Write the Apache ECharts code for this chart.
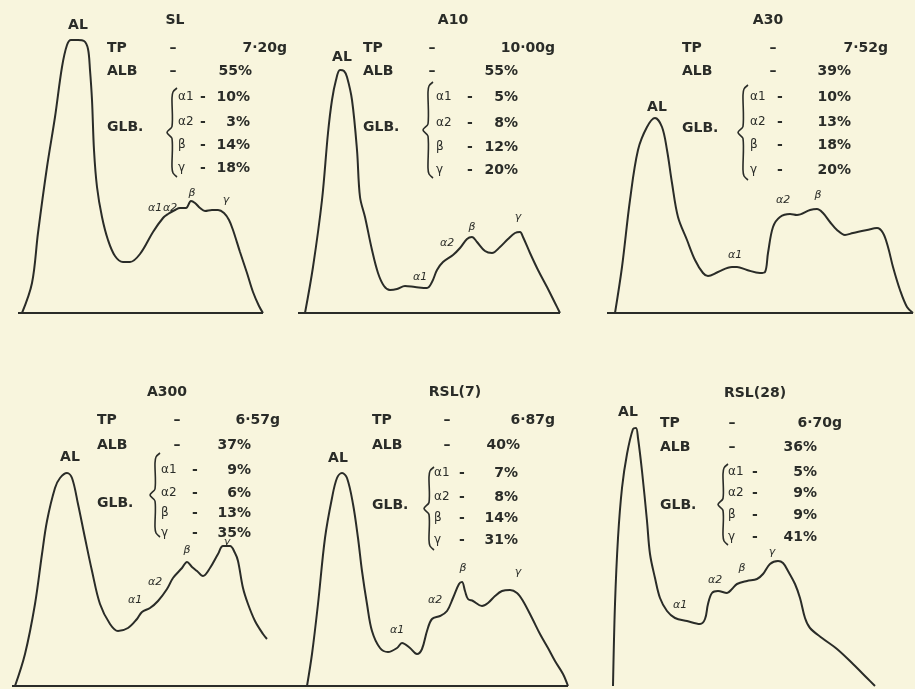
<!DOCTYPE html>
<html><head><meta charset="utf-8">
<script src="https://cdn.jsdelivr.net/npm/echarts@6/dist/echarts.min.js"></script>
<style>html,body{margin:0;padding:0;background:#f8f5dd}#c{width:915px;height:689px}</style>
</head><body><div id="c"></div>
<script>
// ---- data: densitometer traces [distance, density] ----
const slCurve = [[4,0],[14,30],[20,80],[29,146],[37,196],[44,246],[49,268],[53,273],[60,273],[66,272],[70,264],[72,243],[74,213],[76,163],[79,126],[84,96],[90,73],[97,57],[105,51],[112,51],[122,59],[135,81],[145,95],[150,99],[157,103],[162,105],[168,105],[173,112],[177,110],[182,105],[187,102],[194,103],[200,103],[206,100],[211,93],[215,83],[222,61],[229,40],[235,21],[241,7],[245,0]];
const a10Curve = [[7,0],[15,46],[24,113],[30,180],[34,213],[38,233],[42,243],[46,242],[49,236],[54,213],[59,163],[62,116],[67,96],[74,63],[80,40],[86,27],[92,23],[99,24],[107,27],[117,26],[129,25],[134,31],[139,43],[145,51],[155,58],[162,65],[169,74],[174,76],[179,71],[187,62],[194,60],[202,66],[210,74],[217,80],[222,81],[225,76],[232,60],[240,43],[249,26],[257,10],[262,0]];
const a30Curve = [[8,0],[15,46],[23,113],[31,163],[40,186],[48,195],[55,186],[60,163],[65,130],[71,96],[80,73],[88,53],[96,40],[101,37],[111,41],[125,46],[130,46],[140,43],[153,40],[158,41],[161,60],[166,86],[173,96],[183,99],[190,98],[203,103],[210,104],[216,100],[223,91],[230,83],[238,78],[246,80],[260,83],[270,85],[276,80],[281,66],[286,46],[293,23],[300,6],[306,0]];
const a300Curve = [[3,0],[13,32],[23,82],[30,132],[35,165],[43,198],[48,208],[55,213],[60,208],[66,182],[73,148],[80,115],[88,82],[98,62],[106,55],[116,58],[125,67],[130,74],[138,78],[146,85],[155,97],[161,108],[170,118],[175,124],[180,119],[185,115],[191,110],[198,118],[206,132],[211,140],[218,140],[223,133],[226,125],[231,98],[236,82],[243,65],[251,52],[255,47]];
const rsl7Curve = [[7,0],[12,32],[18,82],[25,148],[32,188],[37,208],[42,213],[47,208],[53,182],[58,148],[62,115],[67,82],[72,55],[80,38],[88,34],[97,38],[102,43],[110,38],[117,32],[122,37],[127,55],[132,67],[140,70],[147,75],[153,88],[159,102],[162,104],[165,95],[168,87],[173,85],[182,80],[188,83],[195,90],[202,95],[210,96],[217,93],[223,85],[232,68],[240,52],[248,38],[255,25],[263,12],[268,0]];
const rsl28Curve = [[13,0],[15,82],[18,148],[22,198],[27,232],[33,257],[36,258],[38,248],[42,215],[47,165],[50,132],[55,108],[60,88],[67,75],[75,68],[87,65],[100,62],[105,67],[108,82],[112,93],[118,95],[127,93],[132,97],[137,102],[147,105],[157,107],[163,112],[170,122],[178,125],[183,123],[188,115],[195,102],[200,88],[205,68],[210,58],[222,48],[237,37],[253,22],[267,8],[275,0]];
const baselineLength = [245, 262, 306, 290, 268, 0];

const sampleNames = ['SL', 'A10', 'A30', 'A300', 'RSL(7)', 'RSL(28)'];
const tpValues = ['7·20g', '10·00g', '7·52g', '6·57g', '6·87g', '6·70g'];
const albValues = ['55%', '55%', '39%', '37%', '40%', '36%'];
const alpha1Values = ['10%', '5%', '10%', '9%', '7%', '5%'];
const alpha2Values = ['3%', '8%', '13%', '6%', '8%', '9%'];
const betaValues = ['14%', '12%', '18%', '13%', '14%', '9%'];
const gammaValues = ['18%', '20%', '20%', '35%', '31%', '41%'];
const fractionNames = ['α1', 'α2', 'β', 'γ'];
const curves = [slCurve, a10Curve, a30Curve, a300Curve, rsl7Curve, rsl28Curve];

// ---- layout ----
const INK = '#2a2c28';
const layout = [
 {left:18, top:23, w:245, title:[175,20], al:[78,25], tpY:48, albY:71, lblX:107, dashX:173, tpR:287, albR:252, glbY:127, brX:172, brY:[88,177], rowX:178, rowDash:203, rowR:250, rowY:[97,122,145,168], peaks:[[155,208],[170,208],[192,193],[226,200]]},
 {left:298, top:23, w:262, title:[453,20], al:[342,57], tpY:48, albY:71, lblX:363, dashX:432, tpR:555, albR:518, glbY:127, brX:428, brY:[82,178], rowX:436, rowDash:470, rowR:518, rowY:[97,123,147,170], peaks:[[420,277],[447,243],[472,227],[518,217]]},
 {left:607, top:23, w:306, title:[768,20], al:[657,107], tpY:48, albY:71, lblX:682, dashX:773, tpR:888, albR:851, glbY:128, brX:743, brY:[85,180], rowX:750, rowDash:780, rowR:851, rowY:[97,122,145,170], peaks:[[735,255],[783,200],[818,195],null]},
 {left:12, top:396, w:290, title:[167,392], al:[70,457], tpY:420, albY:445, lblX:97, dashX:177, tpR:280, albR:251, glbY:503, brX:155, brY:[453,537], rowX:161, rowDash:195, rowR:251, rowY:[470,493,513,533], peaks:[[135,600],[155,582],[187,550],[227,542]]},
 {left:300, top:396, w:268, title:[455,392], al:[338,458], tpY:420, albY:445, lblX:372, dashX:447, tpR:555, albR:520, glbY:505, brX:429, brY:[467,550], rowX:434, rowDash:462, rowR:518, rowY:[473,497,518,540], peaks:[[397,630],[435,600],[463,568],[518,572]]},
 {left:600, top:396, w:275, title:[755,393], al:[628,412], tpY:423, albY:447, lblX:660, dashX:732, tpR:842, albR:817, glbY:505, brX:723, brY:[464,545], rowX:728, rowDash:755, rowR:817, rowY:[472,493,515,537], peaks:[[680,605],[715,580],[742,568],[772,552]]}
];
const H = 290;
const FONT = 'bold 14px "DejaVu Sans"';
function txt(t, x, y, align, font) {
  return {type:'text', x:x, y:y, silent:true, z:10,
    style:{text:t, fill:INK, font:font||FONT, align:align||'left', verticalAlign:'middle',
           textAlign:align||'left', textVerticalAlign:'middle'}};
}

const grids = [], xAxes = [], yAxes = [], series = [], graphics = [];
layout.forEach((L, i) => {
  grids.push({left:L.left, top:L.top, width:L.w, height:H});
  xAxes.push({type:'value', gridIndex:i, min:0, max:L.w, show:false});
  yAxes.push({type:'value', gridIndex:i, min:0, max:H, show:false});
  series.push({type:'line', xAxisIndex:i, yAxisIndex:i, data:curves[i], smooth:0.35, symbol:'none', clip:false,
    lineStyle:{color:INK, width:2}, silent:true});
  if (baselineLength[i] > 0) {
    series.push({type:'line', xAxisIndex:i, yAxisIndex:i, data:[[0,0],[baselineLength[i],0]], symbol:'none', clip:false,
      lineStyle:{color:INK, width:2}, silent:true});
  }
  graphics.push(txt(sampleNames[i], L.title[0], L.title[1], 'center'));
  graphics.push(txt('AL', L.al[0], L.al[1], 'center'));
  graphics.push(txt('TP', L.lblX, L.tpY));
  graphics.push(txt('–', L.dashX, L.tpY, 'center'));
  graphics.push(txt(tpValues[i], L.tpR, L.tpY, 'right'));
  graphics.push(txt('ALB', L.lblX, L.albY));
  graphics.push(txt('–', L.dashX, L.albY, 'center'));
  graphics.push(txt(albValues[i], L.albR, L.albY, 'right'));
  graphics.push(txt('GLB.', L.lblX, L.glbY));
  const x = L.brX, y1 = L.brY[0], y2 = L.brY[1], ym = (y1 + y2) / 2;
  graphics.push({type:'polyline', silent:true,
    shape:{points:[[x+5,y1],[x+1,y1+4],[x,y1+10],[x,ym-6],[x-5,ym],[x,ym+6],[x,y2-10],[x+1,y2-4],[x+5,y2]], smooth:0.3},
    style:{stroke:INK, lineWidth:1.6, fill:null}});
  const rowVals = [alpha1Values[i], alpha2Values[i], betaValues[i], gammaValues[i]];
  for (let r = 0; r < 4; r++) {
    graphics.push(txt(fractionNames[r], L.rowX, L.rowY[r], 'left', '12px "DejaVu Sans"'));
    graphics.push(txt('-', L.rowDash, L.rowY[r], 'center'));
    graphics.push(txt(rowVals[r], L.rowR, L.rowY[r], 'right'));
    const p = L.peaks[r];
    if (p) graphics.push(txt(fractionNames[r], p[0], p[1], 'center', 'italic 11px "DejaVu Sans"'));
  }
});

const chart = echarts.init(document.getElementById('c'), null, {renderer:'canvas'});
chart.setOption({
  backgroundColor:'#f8f5dd',
  animation:false,
  grid:grids, xAxis:xAxes, yAxis:yAxes, series:series, graphic:graphics
});
</script></body></html>
